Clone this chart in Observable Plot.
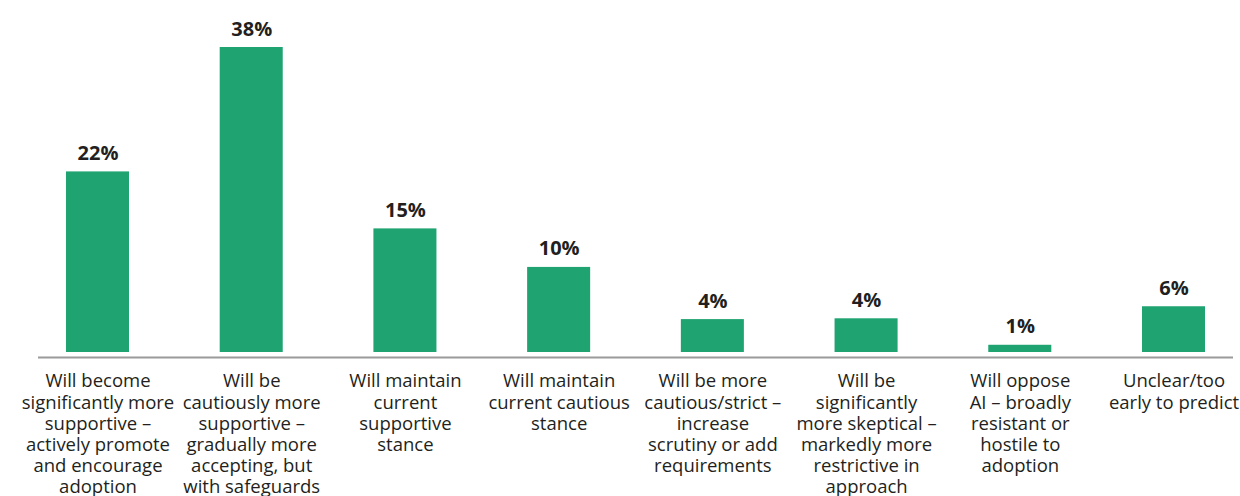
<!DOCTYPE html>
<html>
<head>
<meta charset="utf-8">
<script src="https://cdn.jsdelivr.net/npm/d3@7"></script>
<script src="https://cdn.jsdelivr.net/npm/@observablehq/plot@0.6"></script>
<style>
  html, body { margin: 0; padding: 0; background: #fff; }
  #chart svg { display: block; }
</style>
</head>
<body>
<div id="chart"></div>
<script>
const categories = [
  "Will become\nsignificantly more\nsupportive –\nactively promote\nand encourage\nadoption",
  "Will be\ncautiously more\nsupportive –\ngradually more\naccepting, but\nwith safeguards",
  "Will maintain\ncurrent\nsupportive\nstance",
  "Will maintain\ncurrent cautious\nstance",
  "Will be more\ncautious/strict –\nincrease\nscrutiny or add\nrequirements",
  "Will be\nsignificantly\nmore skeptical –\nmarkedly more\nrestrictive in\napproach",
  "Will oppose\nAI – broadly\nresistant or\nhostile to\nadoption",
  "Unclear/too\nearly to predict"
];
const values = [22.5, 38, 15.4, 10.6, 4.1, 4.2, 0.9, 5.7];
const valueLabels = ["22%", "38%", "15%", "10%", "4%", "4%", "1%", "6%"];

const data = categories.map((c, i) => ({ category: c, value: values[i], label: valueLabels[i] }));

const chart = Plot.plot({
  width: 1240,
  height: 496,
  marginTop: 47,
  marginBottom: 144,
  marginLeft: 38,
  marginRight: 7,
  style: { fontFamily: "'Open Sans', sans-serif", color: "#231f20", background: "#fff" },
  x: { domain: categories, paddingInner: 0.59, paddingOuter: 0.182, round: false, axis: null },
  y: { domain: [0, 38], axis: null },
  marks: [
    Plot.barY(data, { x: "category", y: "value", fill: "#1fa371" }),
    Plot.ruleY([0], { stroke: "#9a9a9a", strokeWidth: 1.8, dy: 5 }),
    Plot.text(data, {
      x: "category", y: "value", text: "label",
      fontWeight: "bold", fontSize: 20, fill: "#231f20",
      lineAnchor: "bottom", dy: -12
    }),
    Plot.text(data, {
      x: "category", y: 0, text: "category",
      fontSize: 18.5, fill: "#231f20",
      lineAnchor: "top", lineHeight: 1.14, dy: 20
    })
  ]
});
document.getElementById("chart").appendChild(chart);
</script>
</body>
</html>
